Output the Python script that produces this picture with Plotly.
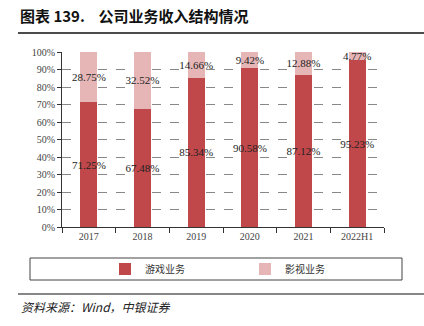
import plotly.graph_objects as go

categories = ["2017", "2018", "2019", "2020", "2021", "2022H1"]
game = [71.25, 67.48, 85.34, 90.58, 87.12, 95.23]
film = [28.75, 32.52, 14.66, 9.42, 12.88, 4.77]
series_names = ["游戏业务", "影视业务"]

W, H = 424, 326
L, R, T, B = 62, 384, 52, 227

def px(x):
    return (x - L) / (R - L)

def py(y):
    return (B - y) / (B - T)

serif = "Liberation Serif, Times New Roman, serif"
cjk = "Noto Sans CJK SC, sans-serif"

fig = go.Figure()
fig.add_trace(go.Bar(
    x=categories, y=[v / 100 for v in game], name=series_names[0],
    marker=dict(color="#C0474A", line=dict(width=0)),
    text=[f"{v:.2f}%" for v in game], textposition="inside",
    insidetextanchor="middle", textangle=0,
    textfont=dict(family=serif, size=11, color="#222222"),
    width=0.32,
))
fig.add_trace(go.Bar(
    x=categories, y=[v / 100 for v in film], name=series_names[1],
    marker=dict(color="#E6B6B6", line=dict(width=0)),
    text=[f"{v:.2f}%" for v in film], textposition="inside",
    insidetextanchor="middle", textangle=0,
    textfont=dict(family=serif, size=11, color="#222222"),
    width=0.32,
))

fig.update_layout(
    width=W, height=H, barmode="stack",
    margin=dict(l=L, r=W - R, t=T, b=H - B),
    paper_bgcolor="white", plot_bgcolor="white",
    uniformtext=dict(minsize=9, mode="show"),
    showlegend=True,
    legend=dict(
        orientation="h", x=px(105), y=py(269), xanchor="left", yanchor="middle",
        entrywidth=95, entrywidthmode="pixels", traceorder="normal",
        font=dict(family=cjk, size=10, color="#333333"),
        bgcolor="rgba(0,0,0,0)", itemwidth=30,
    ),
    xaxis=dict(
        type="category", tickson="boundaries", ticks="outside", ticklen=5,
        tickcolor="#333333", showline=True, linecolor="#333333", linewidth=1,
        tickfont=dict(family=serif, size=10, color="#444444"),
        showgrid=False,
    ),
    yaxis=dict(
        range=[0, 1], dtick=0.1, tickformat=".0%", ticks="outside", ticklen=4,
        tickcolor="#333333", showline=True, linecolor="#333333", linewidth=1,
        tickfont=dict(family=serif, size=10, color="#444444"),
        showgrid=True, gridcolor="#888888", griddash="dash", gridwidth=1,
        zeroline=False,
    ),
    shapes=[
        dict(type="line", xref="paper", yref="paper", x0=px(18), x1=px(424),
             y0=py(33), y1=py(33), line=dict(color="#111111", width=1.5)),
        dict(type="rect", xref="paper", yref="paper", x0=px(30), x1=px(402),
             y0=py(258), y1=py(280), line=dict(color="#444444", width=1)),
        dict(type="line", xref="paper", yref="paper", x0=px(18), x1=px(424),
             y0=py(294), y1=py(294), line=dict(color="#111111", width=1)),
    ],
    annotations=[
        dict(text="<b>图表 139.&nbsp;&nbsp;&nbsp;&nbsp;公司业务收入结构情况</b>", xref="paper", yref="paper",
             x=px(18), y=py(16), xanchor="left", yanchor="middle", showarrow=False,
             font=dict(family=cjk, size=15, color="#111111")),
        dict(text="<i>资料来源：Wind，中银证券</i>", xref="paper", yref="paper",
             x=px(19), y=py(306), xanchor="left", yanchor="middle", showarrow=False,
             font=dict(family=cjk, size=12, color="#222222")),
    ],
)

fig.write_html("out.html")
